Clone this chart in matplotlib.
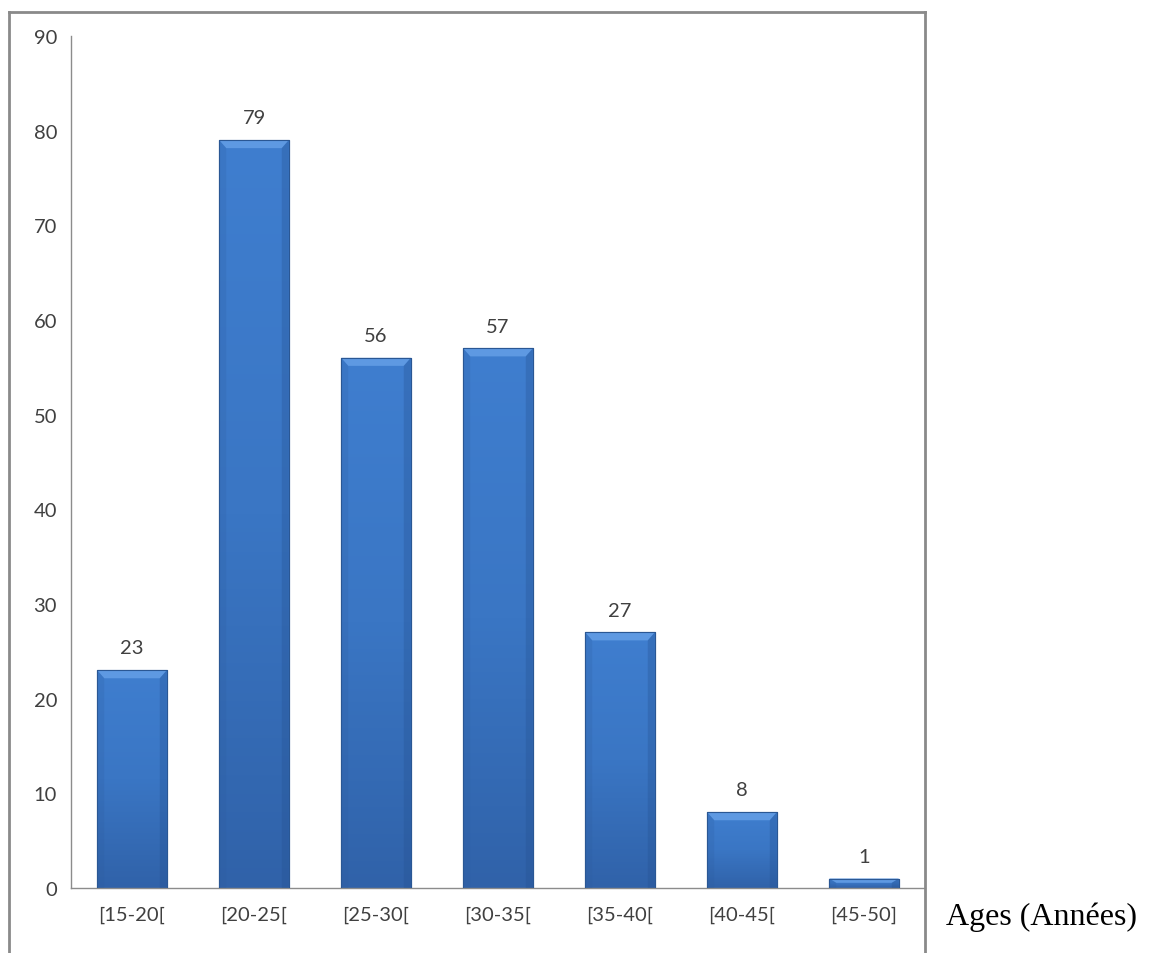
import matplotlib
matplotlib.use("Agg")
import matplotlib.pyplot as plt
import numpy as np
from matplotlib.lines import Line2D
from matplotlib.patches import Polygon
from matplotlib.colors import LinearSegmentedColormap

categories = ["[15-20[", "[20-25[", "[25-30[", "[30-35[", "[35-40[", "[40-45[", "[45-50]"]
values = [23, 79, 56, 57, 27, 8, 1]
yticks = [0, 10, 20, 30, 40, 50, 60, 70, 80, 90]
xlabel = "Ages (Années)"

W, H = 1157, 954
fig = plt.figure(figsize=(W / 100, H / 100), dpi=100)
fig.patch.set_facecolor("white")

ax = fig.add_axes([71 / W, 1 - 889 / H, (925 - 71) / W, (889 - 37) / H])
x = np.arange(len(categories))
bars = ax.bar(x, values, width=0.57, color="#3a74c2", edgecolor="#2a5794", linewidth=0.8, zorder=2)

ax.set_xlim(-0.5, len(categories) - 0.5)
ax.set_ylim(0, 90)

cmap = LinearSegmentedColormap.from_list("g", ["#3062a9", "#3a76c4", "#3f7ecf"])
grad = np.linspace(0, 1, 256).reshape(-1, 1)
px_y = 90 / 852.0       # data units per pixel (y)
px_x = 7 / 854.0        # data units per pixel (x)
for b in bars:
    bx, by, bw, bh = b.get_x(), b.get_y(), b.get_width(), b.get_height()
    im = ax.imshow(grad, extent=[bx, bx + bw, by, by + bh], origin="lower", cmap=cmap,
                   aspect="auto", zorder=2.5)
    im.set_clip_path(b)
    d = min(8 * px_y, bh * 0.45)
    ins = min(7 * px_x, bw * 0.2)
    top = by + bh
    # top bevel
    ax.add_patch(Polygon([[bx, top], [bx + bw, top], [bx + bw - ins, top - d], [bx + ins, top - d]],
                         closed=True, facecolor="#5e99e2", edgecolor="none", zorder=3))
    # side shading
    ax.add_patch(Polygon([[bx, by], [bx, top], [bx + ins, top - d], [bx + ins, by]],
                         closed=True, facecolor="#2c5a9c", alpha=0.2, edgecolor="none", zorder=3))
    ax.add_patch(Polygon([[bx + bw, by], [bx + bw, top], [bx + bw - ins, top - d], [bx + bw - ins, by]],
                         closed=True, facecolor="#24508f", alpha=0.3, edgecolor="none", zorder=3))
    ax.plot([bx, bx + bw, bx + bw, bx, bx], [by, by, top, top, by], color="#2a5794", lw=0.8, zorder=3.5)

ax.set_yticks(yticks)
ax.set_xticks(x)
ax.set_xticklabels(categories)
font = ["Lato", "DejaVu Sans"]
for lab in ax.get_xticklabels() + ax.get_yticklabels():
    lab.set_family(font)
    lab.set_fontsize(14.5)
    lab.set_color("#404040")
ax.tick_params(axis="both", length=0)
ax.tick_params(axis="y", pad=10)
ax.tick_params(axis="x", pad=13)
for s in ["top", "right"]:
    ax.spines[s].set_visible(False)
for s in ["left", "bottom"]:
    ax.spines[s].set_color("#8c8c8c")
    ax.spines[s].set_linewidth(1.0)

for xi, v in zip(x, values):
    ax.annotate(str(v), (xi, v), xytext=(0, 10), textcoords="offset points",
                ha="center", va="bottom", fontsize=14.5, family=font, color="#404040")

# chart frame
fc = "#8a8a8a"
fig.add_artist(Line2D([9 / W, 9 / W], [0, 1 - 13 / H], transform=fig.transFigure, color=fc, lw=2))
fig.add_artist(Line2D([9 / W, 925 / W], [1 - 13 / H, 1 - 13 / H], transform=fig.transFigure, color=fc, lw=2))
fig.add_artist(Line2D([925 / W, 925 / W], [0, 1 - 13 / H], transform=fig.transFigure, color=fc, lw=2))

fig.text(1042 / W, 1 - 917 / H, xlabel, ha="center", va="center", fontsize=23,
         family=["Liberation Serif", "DejaVu Serif"], color="black")

fig.savefig("out.png", dpi=100)
